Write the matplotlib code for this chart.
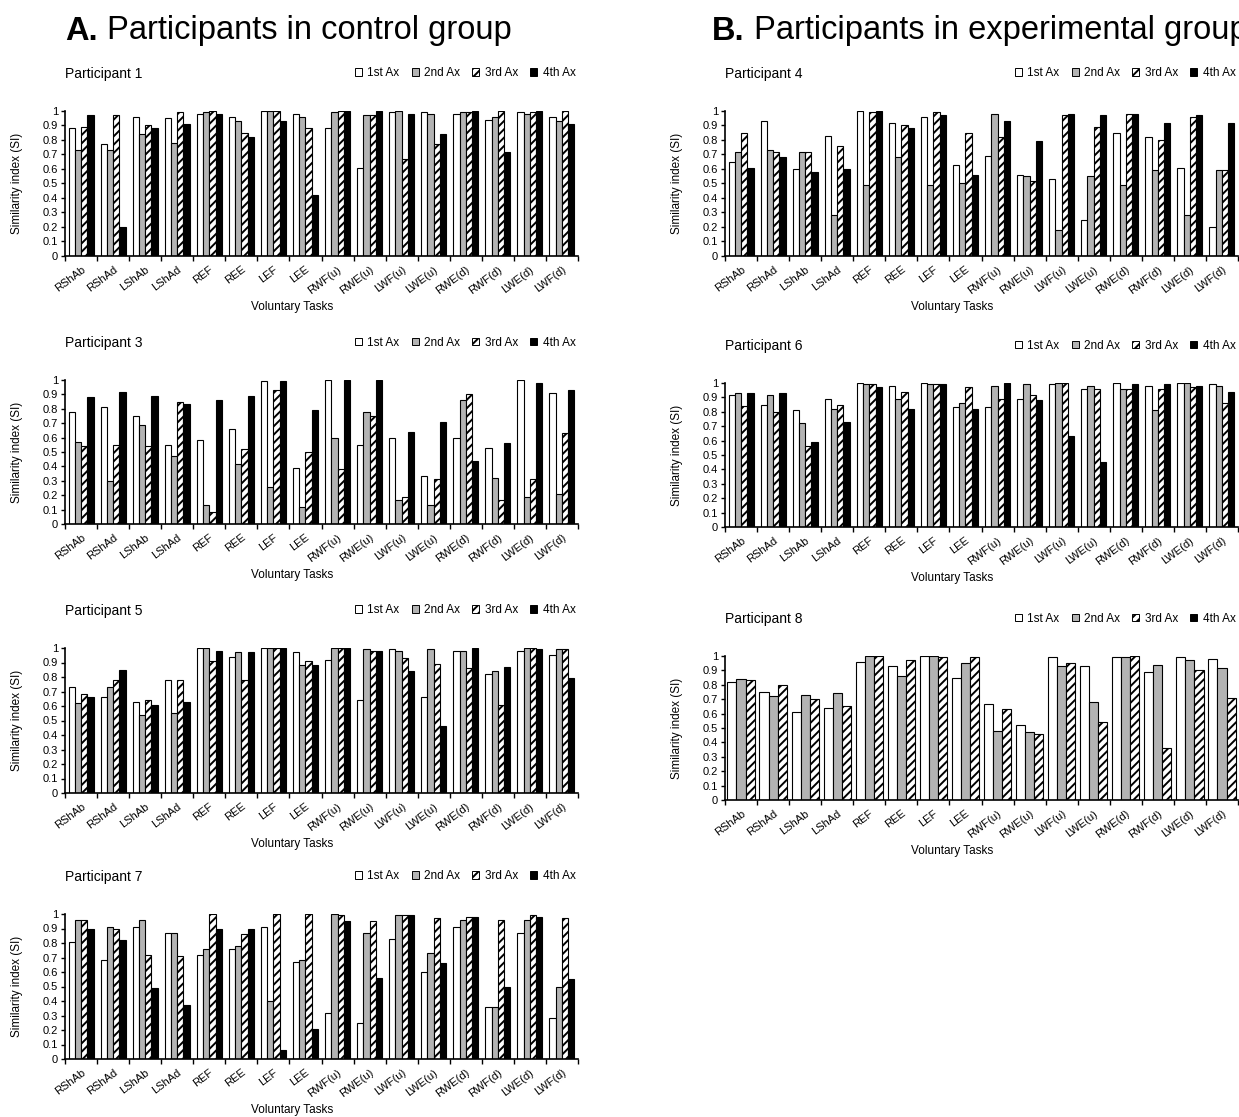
import matplotlib
matplotlib.use("Agg")
import matplotlib.pyplot as plt
from matplotlib.patches import Patch
from matplotlib.text import Annotation
import numpy as np

plt.rcParams['font.family'] = ['Liberation Sans', 'DejaVu Sans']
plt.rcParams['hatch.linewidth'] = 1.4

tasks = ["RShAb", "RShAd", "LShAb", "LShAd", "REF", "REE", "LEF", "LEE",
         "RWF(u)", "RWE(u)", "LWF(u)", "LWE(u)", "RWE(d)", "RWF(d)", "LWE(d)", "LWF(d)"]
series_names = ["1st Ax", "2nd Ax", "3rd Ax", "4th Ax"]

# Similarity index per task, one list per assessment
p1_ax1 = [0.88, 0.77, 0.96, 0.95, 0.98, 0.96, 1.00, 0.98, 0.88, 0.61, 0.99, 0.99, 0.98, 0.94, 0.99, 0.96]
p1_ax2 = [0.73, 0.73, 0.84, 0.78, 0.99, 0.93, 1.00, 0.96, 0.99, 0.97, 1.00, 0.98, 0.99, 0.96, 0.98, 0.93]
p1_ax3 = [0.89, 0.97, 0.90, 0.99, 1.00, 0.85, 1.00, 0.88, 1.00, 0.97, 0.67, 0.77, 0.99, 1.00, 0.99, 1.00]
p1_ax4 = [0.97, 0.20, 0.88, 0.91, 0.98, 0.82, 0.93, 0.42, 1.00, 1.00, 0.98, 0.84, 1.00, 0.72, 1.00, 0.91]

p3_ax1 = [0.78, 0.81, 0.75, 0.55, 0.58, 0.66, 0.99, 0.39, 1.00, 0.55, 0.60, 0.33, 0.60, 0.53, 1.00, 0.91]
p3_ax2 = [0.57, 0.30, 0.69, 0.47, 0.13, 0.42, 0.26, 0.12, 0.60, 0.78, 0.17, 0.13, 0.86, 0.32, 0.19, 0.21]
p3_ax3 = [0.54, 0.55, 0.54, 0.85, 0.08, 0.52, 0.93, 0.50, 0.38, 0.75, 0.19, 0.31, 0.90, 0.17, 0.31, 0.63]
p3_ax4 = [0.88, 0.92, 0.89, 0.83, 0.86, 0.89, 0.99, 0.79, 1.00, 1.00, 0.64, 0.71, 0.44, 0.56, 0.98, 0.93]

p5_ax1 = [0.73, 0.66, 0.63, 0.78, 1.00, 0.94, 1.00, 0.97, 0.92, 0.64, 0.99, 0.66, 0.98, 0.82, 0.98, 0.95]
p5_ax2 = [0.62, 0.73, 0.54, 0.55, 1.00, 0.97, 1.00, 0.88, 1.00, 0.99, 0.98, 0.99, 0.98, 0.84, 1.00, 0.99]
p5_ax3 = [0.68, 0.78, 0.64, 0.78, 0.91, 0.78, 1.00, 0.91, 1.00, 0.98, 0.93, 0.89, 0.86, 0.61, 1.00, 0.99]
p5_ax4 = [0.66, 0.85, 0.61, 0.63, 0.98, 0.97, 1.00, 0.88, 1.00, 0.98, 0.84, 0.46, 1.00, 0.87, 0.99, 0.79]

p7_ax1 = [0.81, 0.68, 0.91, 0.87, 0.72, 0.76, 0.91, 0.67, 0.32, 0.25, 0.83, 0.60, 0.91, 0.36, 0.87, 0.28]
p7_ax2 = [0.96, 0.91, 0.96, 0.87, 0.76, 0.78, 0.40, 0.68, 1.00, 0.87, 0.99, 0.73, 0.96, 0.36, 0.96, 0.50]
p7_ax3 = [0.96, 0.90, 0.72, 0.71, 1.00, 0.86, 1.00, 1.00, 0.99, 0.95, 0.99, 0.97, 0.98, 0.96, 0.99, 0.97]
p7_ax4 = [0.90, 0.82, 0.49, 0.37, 0.90, 0.90, 0.06, 0.21, 0.95, 0.56, 0.99, 0.66, 0.98, 0.50, 0.98, 0.55]

p4_ax1 = [0.65, 0.93, 0.60, 0.83, 1.00, 0.92, 0.96, 0.63, 0.69, 0.56, 0.53, 0.25, 0.85, 0.82, 0.61, 0.20]
p4_ax2 = [0.72, 0.73, 0.72, 0.28, 0.49, 0.68, 0.49, 0.50, 0.98, 0.55, 0.18, 0.55, 0.49, 0.59, 0.28, 0.59]
p4_ax3 = [0.85, 0.72, 0.72, 0.76, 0.99, 0.90, 0.99, 0.85, 0.82, 0.52, 0.97, 0.89, 0.98, 0.80, 0.96, 0.59]
p4_ax4 = [0.61, 0.68, 0.58, 0.60, 1.00, 0.88, 0.97, 0.56, 0.93, 0.79, 0.98, 0.97, 0.98, 0.92, 0.97, 0.92]

p6_ax1 = [0.92, 0.85, 0.81, 0.89, 1.00, 0.98, 1.00, 0.83, 0.83, 0.89, 0.99, 0.96, 1.00, 0.98, 1.00, 0.99]
p6_ax2 = [0.93, 0.92, 0.72, 0.82, 0.99, 0.89, 0.99, 0.86, 0.98, 0.99, 1.00, 0.98, 0.96, 0.81, 1.00, 0.98]
p6_ax3 = [0.84, 0.80, 0.56, 0.85, 0.99, 0.94, 0.99, 0.97, 0.89, 0.92, 1.00, 0.96, 0.96, 0.96, 0.97, 0.86]
p6_ax4 = [0.93, 0.93, 0.59, 0.73, 0.97, 0.82, 0.99, 0.82, 1.00, 0.88, 0.63, 0.45, 0.99, 0.99, 0.98, 0.94]

p8_ax1 = [0.82, 0.75, 0.61, 0.64, 0.96, 0.93, 1.00, 0.85, 0.67, 0.52, 0.99, 0.93, 0.99, 0.89, 0.99, 0.98]
p8_ax2 = [0.84, 0.72, 0.73, 0.74, 1.00, 0.86, 1.00, 0.95, 0.48, 0.47, 0.93, 0.68, 0.99, 0.94, 0.97, 0.92]
p8_ax3 = [0.83, 0.80, 0.70, 0.65, 1.00, 0.97, 0.99, 0.99, 0.63, 0.46, 0.95, 0.54, 1.00, 0.36, 0.90, 0.71]

styles = [dict(facecolor="white", hatch=None),
          dict(facecolor="#b3b3b3", hatch=None),
          dict(facecolor="white", hatch="////"),
          dict(facecolor="black", hatch=None)]

W, H = 1239, 1117
fig = plt.figure(figsize=(W / 100, H / 100), dpi=100)


def px_axes(left, top, bottom, width=513):
    return fig.add_axes([left / W, 1 - bottom / H, width / W, (bottom - top) / H])


def draw_panel(left, top, bottom, title, data):
    ax = px_axes(left, top, bottom)
    n = len(data)
    group = 0.78 if n == 4 else 0.85
    bw = group / n
    x = np.arange(len(tasks))
    for j, vals in enumerate(data):
        pos = x + (1 - group) / 2 + (j + 0.5) * bw
        ax.bar(pos, vals, width=bw, edgecolor="black", linewidth=0.8,
               **styles[j])
    ax.set_xlim(0, len(tasks))
    ax.set_ylim(0, 1)
    ax.set_yticks(np.round(np.arange(0, 1.01, 0.1), 1))
    ax.set_yticklabels(["0", "0.1", "0.2", "0.3", "0.4", "0.5", "0.6", "0.7",
                        "0.8", "0.9", "1"], fontsize=8)
    ax.set_xticks(np.arange(0, len(tasks) + 1))
    ax.set_xticklabels([])
    ax.set_xticks(x + 0.5, minor=True)
    ax.set_xticklabels(tasks, minor=True, rotation=37, ha="right", va="top",
                       rotation_mode="anchor", fontsize=8)
    ax.tick_params(axis="x", which="minor", length=0, pad=6)
    ax.tick_params(axis="x", which="major", length=3.5, width=1, direction="out")
    ax.tick_params(axis="y", length=3, width=1, direction="out", pad=2)
    for s in ("top", "right"):
        ax.spines[s].set_visible(False)
    for s in ("left", "bottom"):
        ax.spines[s].set_linewidth(1.2)
    ax.text(-0.0936, 0.5, "Similarity index (SI)", transform=ax.transAxes,
            rotation=90, ha="center", va="center", fontsize=8.5)
    ax.text(0.443, -0.352, "Voluntary Tasks", transform=ax.transAxes,
            ha="center", va="center", fontsize=8.5)
    ax.text(0.0, 1.255, title, transform=ax.transAxes, ha="left",
            va="center", fontsize=10)
    handles = [Patch(edgecolor="black", linewidth=0.7, **st) for st in styles]
    ax.legend(handles, series_names, loc="center", bbox_to_anchor=(0.78, 1.26),
              ncol=4, frameon=False, fontsize=8.5, handlelength=0.6,
              handleheight=0.6, handletextpad=0.45, columnspacing=1.05,
              borderpad=0)
    return ax


draw_panel(65, 111, 256, "Participant 1", [p1_ax1, p1_ax2, p1_ax3, p1_ax4])
draw_panel(65, 380, 524, "Participant 3", [p3_ax1, p3_ax2, p3_ax3, p3_ax4])
draw_panel(65, 648, 793, "Participant 5", [p5_ax1, p5_ax2, p5_ax3, p5_ax4])
draw_panel(65, 914, 1059, "Participant 7", [p7_ax1, p7_ax2, p7_ax3, p7_ax4])
draw_panel(725, 111, 256, "Participant 4", [p4_ax1, p4_ax2, p4_ax3, p4_ax4])
draw_panel(725, 383, 527, "Participant 6", [p6_ax1, p6_ax2, p6_ax3, p6_ax4])
draw_panel(725, 656, 800, "Participant 8", [p8_ax1, p8_ax2, p8_ax3])


def group_title(x, letter, rest):
    t = fig.text(x / W, 1 - 31 / H, letter, fontsize=23.5, fontweight="bold",
                 ha="left", va="center")
    fig.add_artist(Annotation(rest, xy=(1, 0), xycoords=t,
                              va="bottom", ha="left", fontsize=23.5))


group_title(65, "A.", " Participants in control group")
group_title(712, "B.", " Participants in experimental group")

fig.savefig("out.png", dpi=100)
